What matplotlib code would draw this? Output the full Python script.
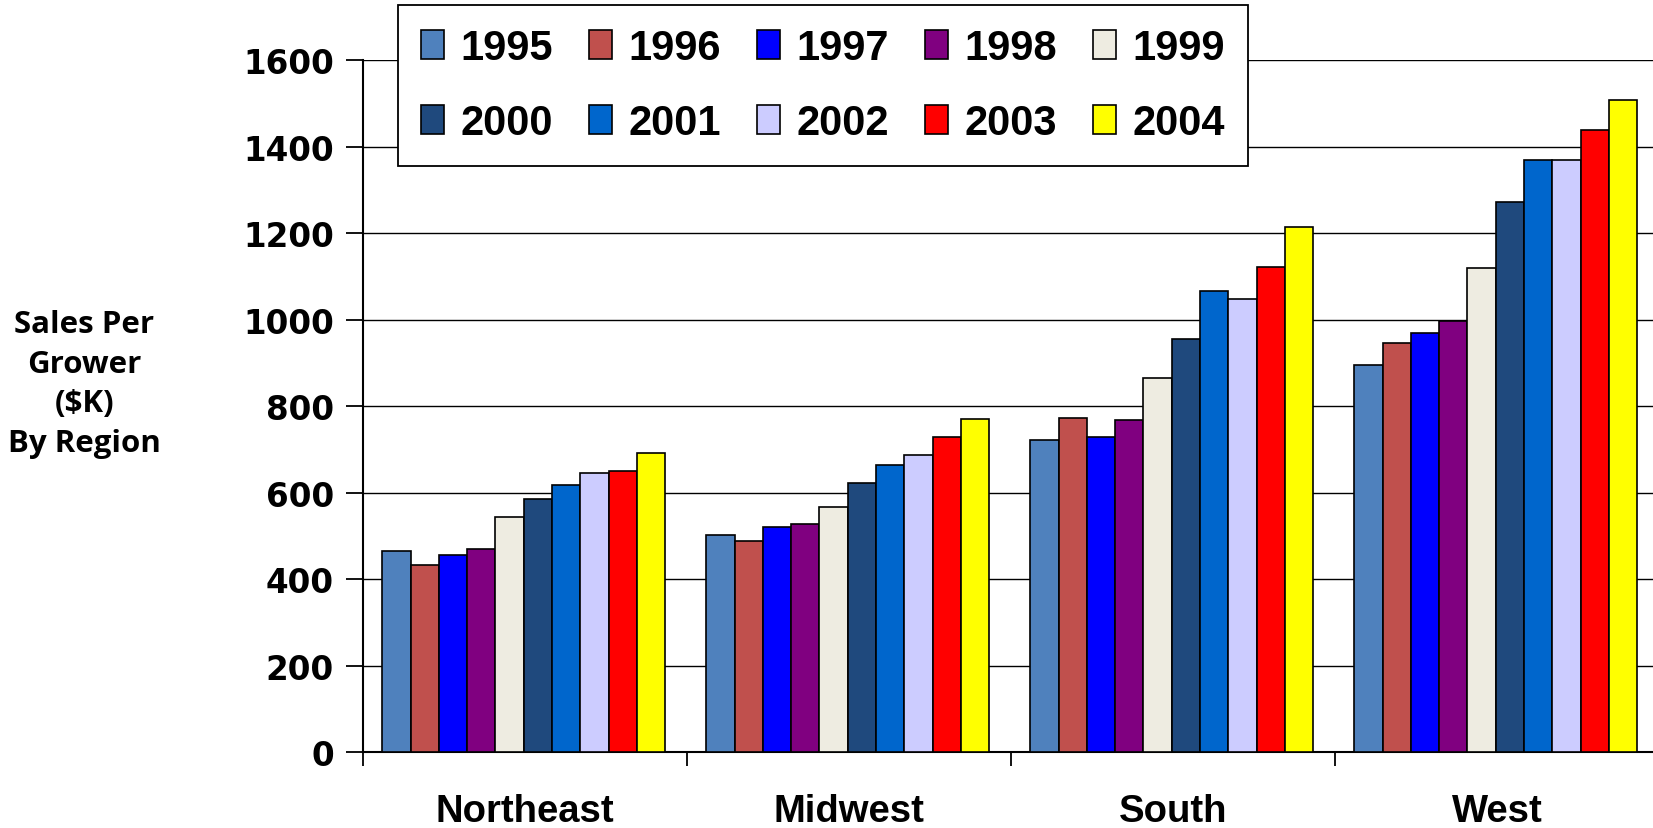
import matplotlib
matplotlib.use("Agg")
import matplotlib.pyplot as plt
import numpy as np
from matplotlib import font_manager

regions = ["Northeast", "Midwest", "South", "West"]
years = ["1995", "1996", "1997", "1998", "1999", "2000", "2001", "2002", "2003", "2004"]

sales_1995 = [465, 503, 722, 895]
sales_1996 = [434, 489, 773, 946]
sales_1997 = [457, 521, 730, 969]
sales_1998 = [470, 527, 768, 998]
sales_1999 = [544, 568, 865, 1120]
sales_2000 = [586, 623, 956, 1273]
sales_2001 = [618, 665, 1066, 1369]
sales_2002 = [646, 687, 1048, 1369]
sales_2003 = [651, 729, 1121, 1439]
sales_2004 = [693, 771, 1214, 1508]

series = [sales_1995, sales_1996, sales_1997, sales_1998, sales_1999,
          sales_2000, sales_2001, sales_2002, sales_2003, sales_2004]

colors = ["#4F81BD", "#C0504D", "#0000FF", "#800080", "#EEECE1",
          "#1F497D", "#0066CC", "#CCCCFF", "#FF0000", "#FFFF00"]

yticks = [0, 200, 400, 600, 800, 1000, 1200, 1400, 1600]

installed = {f.name for f in font_manager.fontManager.ttflist}
legend_family = ["Liberation Sans Narrow", "Liberation Sans"] if "Liberation Sans Narrow" in installed else ["Liberation Sans"]

fig = plt.figure(figsize=(16.53, 8.29), dpi=100)
ax = fig.add_axes([0.2196, 0.0911, 0.784, 0.8353])

n = len(series)
bar_w = 0.0873
x = np.arange(len(regions))
handles = []
for i, (vals, col, yr) in enumerate(zip(series, colors, years)):
    offs = (i - (n - 1) / 2) * bar_w - 0.004
    h = ax.bar(x + offs, vals, width=bar_w, color=col, edgecolor="black",
               linewidth=1.2, label=yr, zorder=3)
    handles.append(h)

ax.set_xlim(-0.5, len(regions) - 0.5)
ax.set_ylim(0, 1600)
ax.set_yticks(yticks)
ax.set_yticklabels([str(t) for t in yticks], fontsize=23.5, fontweight="bold",
                   family="DejaVu Sans")
ax.yaxis.grid(True, color="black", linewidth=1.0, zorder=0)
ax.set_axisbelow(True)

ax.set_xticks(x)
ax.set_xticklabels(regions, fontsize=27.5, fontweight="bold", family="Liberation Sans")
ax.set_xticks(np.arange(len(regions) + 1) - 0.5, minor=True)
ax.tick_params(axis="x", which="major", length=0, pad=29)
ax.tick_params(axis="x", which="minor", length=10, width=1.3, direction="out")
ax.tick_params(axis="y", length=12, width=1.3, direction="out", pad=9)

for s in ["top", "right"]:
    ax.spines[s].set_visible(False)
for s in ["left", "bottom"]:
    ax.spines[s].set_linewidth(1.5)

fig.text(0.051, 0.536, "Sales Per\nGrower\n($K)\nBy Region", ha="center", va="center",
         fontsize=22.5, fontweight="bold", family="Open Sans", linespacing=1.42)

# legend reads row by row: reorder for matplotlib's column-wise filling
ncol = 5
nrow = 2
order = [r * ncol + c for c in range(ncol) for r in range(nrow)]
leg = ax.legend([handles[k] for k in order], [years[k] for k in order],
                loc="upper left", bbox_to_anchor=(0.2408, 0.993),
                bbox_transform=fig.transFigure, ncol=ncol, frameon=True,
                fancybox=False, borderaxespad=0,
                prop={"family": legend_family, "weight": "bold", "size": 30},
                handlelength=0.55, handleheight=0.7, handletextpad=0.4,
                columnspacing=0.86, labelspacing=0.85, borderpad=0.55)
leg.get_frame().set_edgecolor("black")
leg.get_frame().set_linewidth(1.3)
leg.get_frame().set_alpha(1)

fig.savefig("out.png", dpi=100)
